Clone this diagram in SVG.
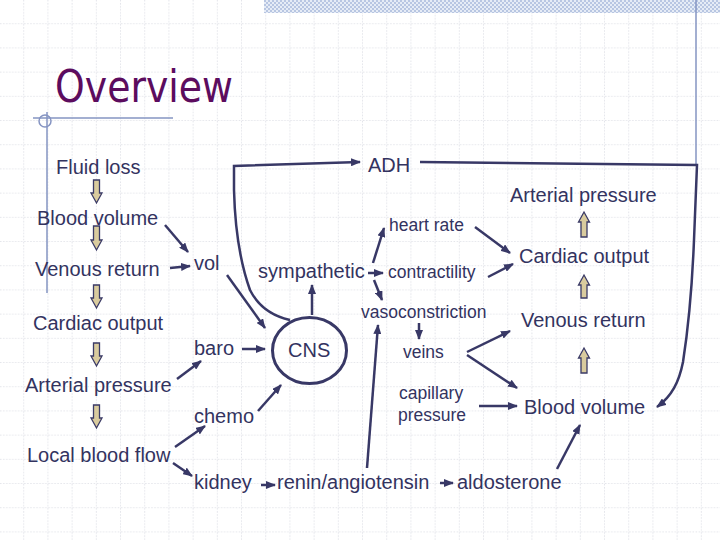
<svg xmlns="http://www.w3.org/2000/svg" width="720" height="540" viewBox="0 0 720 540">
<defs>
<pattern id="grid" width="24.2" height="24.2" patternUnits="userSpaceOnUse" x="0" y="0">
<path d="M24.2 0V24.2M0 24.2H24.2" fill="none" stroke="#c9ccd6" stroke-width="1" stroke-dasharray="1.5 1.5"/>
</pattern>
<pattern id="check" width="4" height="4" patternUnits="userSpaceOnUse">
<rect width="4" height="4" fill="#e6ecf6"/>
<rect width="2" height="2" fill="#b8c6e2"/>
<rect x="2" y="2" width="2" height="2" fill="#b8c6e2"/>
</pattern>
<marker id="ah" viewBox="0 0 10 8" refX="9" refY="4" markerWidth="10" markerHeight="8" markerUnits="userSpaceOnUse" orient="auto">
<path d="M0 0L10 4L0 8z" fill="#383866"/>
</marker>
<style>
.t{font-family:"Liberation Sans",Arial,sans-serif;fill:#33335f;font-size:20px}
.s{font-size:17.5px}
.c{fill:none;stroke:#383866;stroke-width:2.5;marker-end:url(#ah)}
.p{fill:none;stroke:#383866;stroke-width:2.5}
.blk{fill:#d9cb9e;stroke:#3a3a66;stroke-width:1.3}
.deco{fill:none;stroke:#8594c2;stroke-width:1.5}
</style>
</defs>
<rect width="720" height="540" fill="#ffffff"/>
<rect width="720" height="540" fill="url(#grid)"/>
<rect x="264" y="0" width="456" height="13" fill="url(#check)"/>
<g id="decoration">
<line class="deco" x1="696" y1="0" x2="696" y2="165"/>
<line class="deco" x1="33" y1="118" x2="173" y2="118"/>
<line class="deco" x1="47" y1="112" x2="47" y2="293"/>
<circle class="deco" cx="45" cy="121" r="6"/>
</g>
<text id="title" x="55" y="102" font-family="DejaVu Sans,sans-serif" font-size="45" fill="#5c0c5e" textLength="178" lengthAdjust="spacingAndGlyphs">Overview</text>

<g id="connectors">
<path class="c" d="M165 225L188 252"/>
<path class="c" d="M170 268L190 266"/>
<path class="c" d="M227 275L265 328"/>
<path class="c" d="M242 349L265 349"/>
<path class="c" d="M177 379L201 361"/>
<path class="c" d="M175 447L205 426"/>
<path class="c" d="M173 463L192 476"/>
<path class="c" d="M258 411L281 385"/>
<path class="c" d="M261 485L275 485"/>
<path class="c" d="M440 483L453 483"/>
<path class="c" d="M557 469L580 425"/>
<path class="c" d="M479 406L517 406"/>
<path class="c" d="M367 468L378 325"/>
<path class="c" d="M312 315L312 285"/>
<path class="c" d="M373 263L384 228"/>
<path class="c" d="M368 273L383 273"/>
<path class="c" d="M374 280L382 300"/>
<path class="c" d="M419 323L419 339"/>
<path class="c" d="M475 227L510 253"/>
<path class="c" d="M488 277L513 264"/>
<path class="c" d="M467 352L510 331"/>
<path class="c" d="M467 355L517 388"/>
<path class="c" d="M290 320C272 316 258 306 250 290C240 262 235 230 234 190L234 166L360 162"/>
<path class="c" d="M420 162L697 165L694 240C692 290 688 330 683 362C679 382 672 396 657 407"/>
</g>

<g id="blockarrows">
<path class="blk" d="M93.5 180h6v13h2.5l-5.5 10l-5.5-10h2.5z"/>
<path class="blk" d="M93.5 226h6v14h2.5l-5.5 10l-5.5-10h2.5z"/>
<path class="blk" d="M93.5 285h6v13h2.5l-5.5 10l-5.5-10h2.5z"/>
<path class="blk" d="M93.5 343h6v13h2.5l-5.5 10l-5.5-10h2.5z"/>
<path class="blk" d="M93.5 405h6v13h2.5l-5.5 10l-5.5-10h2.5z"/>
<path class="blk" d="M581 237h6v-15h2.5l-5.5-10l-5.5 10h2.5z"/>
<path class="blk" d="M581 298h6v-13h2.5l-5.5-10l-5.5 10h2.5z"/>
<path class="blk" d="M581 373h6v-15h2.5l-5.5-10l-5.5 10h2.5z"/>
</g>

<g id="n-fluidloss"><text class="t" x="56" y="174">Fluid loss</text></g>
<g id="n-adh"><text class="t" x="368" y="172">ADH</text></g>
<g id="n-art-r"><text class="t" x="510" y="202">Arterial pressure</text></g>
<g id="n-bv-l"><text class="t" x="37" y="225">Blood volume</text></g>
<g id="n-hr"><text class="t s" x="389" y="231">heart rate</text></g>
<g id="n-vr-l"><text class="t" x="35" y="276">Venous return</text></g>
<g id="n-vol"><text class="t" x="194" y="270">vol</text></g>
<g id="n-symp"><text class="t" x="258" y="278">sympathetic</text></g>
<g id="n-contr"><text class="t s" x="388" y="278">contractility</text></g>
<g id="n-co-r"><text class="t" x="519" y="263">Cardiac output</text></g>
<g id="n-vaso"><text class="t s" x="361" y="318">vasoconstriction</text></g>
<g id="n-co-l"><text class="t" x="33" y="330">Cardiac output</text></g>
<g id="n-vr-r"><text class="t" x="521" y="327">Venous return</text></g>
<g id="n-baro"><text class="t" x="194" y="355">baro</text></g>
<g id="n-cns"><ellipse cx="309.5" cy="350.5" rx="37" ry="33" fill="none" stroke="#383866" stroke-width="3"/><text class="t" x="288" y="357">CNS</text></g>
<g id="n-veins"><text class="t s" x="403" y="358">veins</text></g>
<g id="n-art-l"><text class="t" x="25" y="392">Arterial pressure</text></g>
<g id="n-cap"><text class="t s" x="399" y="399">capillary</text><text class="t s" x="398" y="421">pressure</text></g>
<g id="n-chemo"><text class="t" x="194" y="423">chemo</text></g>
<g id="n-bv-r"><text class="t" x="524" y="414">Blood volume</text></g>
<g id="n-lbf"><text class="t" x="27" y="462">Local blood flow</text></g>
<g id="n-kidney"><text class="t" x="194" y="489">kidney</text></g>
<g id="n-renin"><text class="t" x="277" y="489">renin/angiotensin</text></g>
<g id="n-aldo"><text class="t" x="457" y="489">aldosterone</text></g>
</svg>
